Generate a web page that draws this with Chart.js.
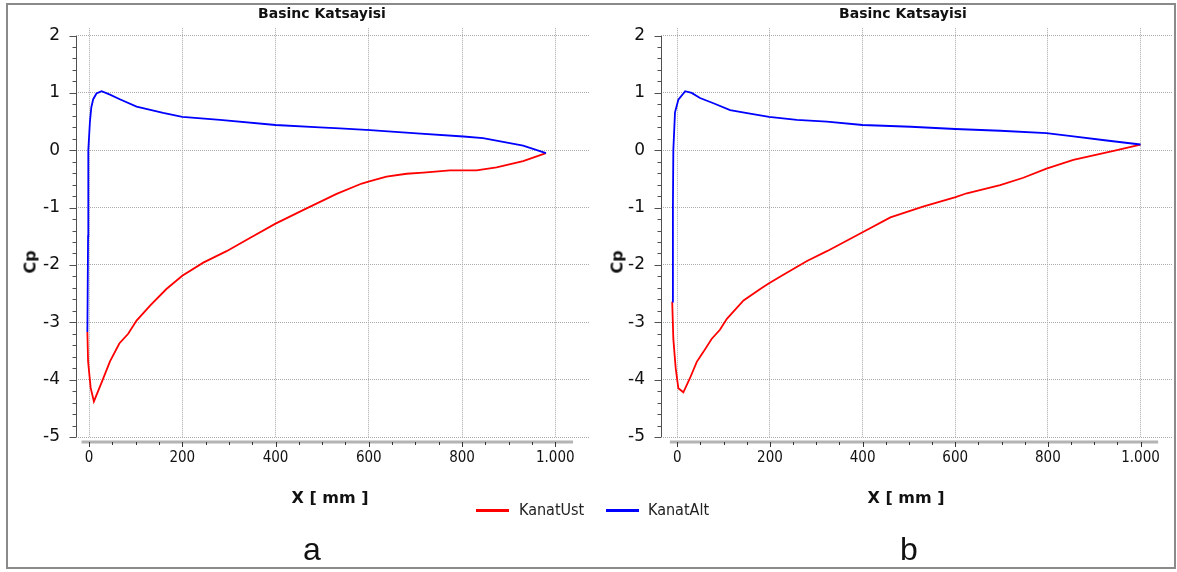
<!DOCTYPE html>
<html>
<head>
<meta charset="utf-8">
<script src="https://cdn.jsdelivr.net/npm/chart.js@4.4.0/dist/chart.umd.min.js"></script>
<style>
html, body { margin: 0; padding: 0; background: #fff; }
#page { position: relative; width: 1177px; height: 572px; overflow: hidden; font-family: "DejaVu Sans", sans-serif; color: #111; }
.frame { position: absolute; left: 6px; top: 3px; width: 1166px; height: 562px; border: 2px solid #8a8a8a; }
canvas { position: absolute; top: 0; }
.ttl { position: absolute; top: 5px; line-height: 16px; font: bold 14px "DejaVu Sans"; transform: translateX(-50%); white-space: nowrap; }
.xt { position: absolute; top: 488px; line-height: 20px; font: bold 16px "DejaVu Sans"; transform: translateX(-50%); white-space: nowrap; }
.yt { position: absolute; line-height: 20px; font: bold 16px "DejaVu Sans"; transform: translate(-50%, -50%) rotate(-90deg); white-space: nowrap; }
.sub { position: absolute; top: 531px; line-height: 36px; font: 32px "Liberation Sans"; transform: translateX(-50%); }
.lg-line { position: absolute; top: 509px; width: 33px; height: 3px; }
.lg-text { position: absolute; top: 500px; line-height: 20px; font: 16px "DejaVu Sans Condensed"; color: #222; }
</style>
</head>
<body>
<div id="page">
  <div class="frame"></div>
  <canvas id="chartA" width="595" height="572" style="left:0;width:595px;height:572px"></canvas>
  <canvas id="chartB" width="582" height="572" style="left:595px;width:582px;height:572px"></canvas>

  <div class="ttl" style="left:322px">Basinc Katsayisi</div>
  <div class="ttl" style="left:903px">Basinc Katsayisi</div>
  <div class="yt" style="left:30px;top:262px">Cp</div>
  <div class="yt" style="left:617px;top:262px">Cp</div>
  <div class="xt" style="left:330px">X [ mm ]</div>
  <div class="xt" style="left:906px">X [ mm ]</div>

  <div class="lg-line" style="left:476px;background:#ff0000"></div>
  <div class="lg-text" style="left:519px">KanatUst</div>
  <div class="lg-line" style="left:606px;background:#0000ff"></div>
  <div class="lg-text" style="left:648px">KanatAlt</div>

  <div class="sub" style="left:312px">a</div>
  <div class="sub" style="left:909px">b</div>
</div>

<script>
// ---- axes ----
const xTicks = [0, 200, 400, 600, 800, 1000];
const xTickLabels = ['0', '200', '400', '600', '800', '1.000'];
const cpTicks = [-5, -4, -3, -2, -1, 0, 1, 2];

// ---- a: upper surface (KanatUst) ----
const aUstX  = [-3.5, -2, 3.5, 10.5, 28, 45, 65, 84, 102, 131, 166, 200, 245, 295, 345, 400, 460, 531, 585, 603, 638, 681, 717, 774, 831, 874, 931, 980];
const aUstCp = [-3.17, -3.68, -4.14, -4.38, -4.03, -3.68, -3.37, -3.2, -2.97, -2.71, -2.42, -2.19, -1.96, -1.76, -1.53, -1.28, -1.04, -0.76, -0.58, -0.54, -0.46, -0.41, -0.39, -0.35, -0.35, -0.30, -0.19, -0.05];

// ---- a: lower surface (KanatAlt) ----
const aAltX  = [-3.5, -2, -1.5, 2, 5, 9, 16, 27, 45, 66, 102, 159, 200, 281, 400, 495, 538, 603, 703, 803, 845, 931, 980];
const aAltCp = [-3.17, -1.5, 0, 0.5, 0.75, 0.89, 0.99, 1.03, 0.97, 0.89, 0.76, 0.65, 0.58, 0.53, 0.44, 0.40, 0.38, 0.35, 0.295, 0.24, 0.21, 0.08, -0.05];

// ---- b: upper surface (KanatUst) ----
const bUstX  = [-11, -8.6, -3.5, 2.2, 13, 27, 42, 56, 74, 92, 107, 143, 179, 198, 229, 280, 323, 400, 460, 532, 599, 625, 697, 747, 797, 855, 942, 1000];
const bUstCp = [-2.64, -3.29, -3.80, -4.15, -4.22, -3.98, -3.69, -3.52, -3.29, -3.13, -2.94, -2.62, -2.42, -2.32, -2.17, -1.93, -1.76, -1.43, -1.17, -0.98, -0.82, -0.75, -0.61, -0.48, -0.32, -0.17, -0.01, 0.10];

// ---- b: lower surface (KanatAlt) ----
const bAltX  = [-11, -9.5, -8.6, -5, 2.2, 17, 31, 49, 78, 114, 157, 198, 258, 323, 400, 504, 600, 697, 797, 855, 927, 1000];
const bAltCp = [-2.64, -1, 0, 0.66, 0.88, 1.03, 1.0, 0.91, 0.82, 0.70, 0.64, 0.58, 0.53, 0.50, 0.44, 0.41, 0.37, 0.34, 0.30, 0.24, 0.17, 0.10];

function pts(xs, ys) {
    return xs.map((x, i) => ({ x, y: ys[i] }));
}

// y axis line with minor ticks, and the detached grey x axis below the plot
const axisDeco = {
    id: 'axisDeco',
    afterDraw(chart) {
        const { ctx, chartArea } = chart;
        const xs = chart.scales.x, ys = chart.scales.y;
        const ax = chartArea.left - 1.5;
        ctx.save();
        ctx.strokeStyle = '#505050';
        ctx.lineWidth = 1;
        ctx.beginPath();
        ctx.moveTo(ax, ys.getPixelForValue(2));
        ctx.lineTo(ax, ys.getPixelForValue(-5));
        for (let i = 0; i <= 35; i++) {
            const v = -5 + i * 0.2;
            const p = Math.round(ys.getPixelForValue(v)) + 0.5;
            ctx.moveTo(ax - (i % 5 === 0 ? 7 : 4), p);
            ctx.lineTo(ax, p);
        }
        ctx.stroke();

        const ay = chartArea.bottom + 5;
        ctx.strokeStyle = '#b4b4b4';
        ctx.lineWidth = 3;
        ctx.beginPath();
        ctx.moveTo(xs.getPixelForValue(-16), ay);
        ctx.lineTo(xs.getPixelForValue(1038), ay);
        ctx.stroke();

        ctx.strokeStyle = '#333';
        ctx.lineWidth = 1;
        ctx.beginPath();
        for (let v = 0; v <= 1000; v += 50) {
            const p = Math.round(xs.getPixelForValue(v)) + 0.5;
            ctx.moveTo(p, ay);
            ctx.lineTo(p, ay + (v % 200 === 0 ? 5 : 3));
        }
        ctx.stroke();
        ctx.restore();
    }
};

function makeChart(id, ust, alt, xMin, xMax, yAxisWidth) {
    const line = (label, data, color) => ({
        label, data,
        borderColor: color,
        backgroundColor: color,
        borderWidth: 1.8,
        showLine: true,
        pointRadius: 0,
        tension: 0
    });

    return new Chart(document.getElementById(id), {
        type: 'scatter',
        data: {
            datasets: [
                line('KanatAlt', alt, '#0000ff'),
                line('KanatUst', ust, '#ff0000')
            ]
        },
        options: {
            responsive: false,
            animation: false,
            devicePixelRatio: 1,
            layout: { padding: { left: 0, right: 5, top: 25, bottom: 95 } },
            plugins: {
                legend: { display: false },
                tooltip: { enabled: false }
            },
            scales: {
                x: {
                    type: 'linear',
                    min: xMin,
                    max: xMax,
                    afterBuildTicks: s => { s.ticks = xTicks.map(v => ({ value: v })); },
                    afterFit: s => { s.height = 40; },
                    ticks: {
                        padding: 12,
                        color: '#111',
                        maxRotation: 0,
                        font: { family: 'DejaVu Sans Condensed', size: 15 },
                        callback: (v, i) => xTickLabels[i]
                    },
                    grid: { color: '#ababab', lineWidth: 1, drawTicks: false },
                    border: { display: false, dash: [1, 1] }
                },
                y: {
                    type: 'linear',
                    min: -5,
                    max: 2.128,
                    afterBuildTicks: s => { s.ticks = cpTicks.map(v => ({ value: v })); },
                    afterFit: s => { s.width = yAxisWidth; },
                    ticks: {
                        padding: 18,
                        color: '#111',
                        font: { family: 'DejaVu Sans', size: 17 },
                        callback: v => String(v)
                    },
                    grid: { color: '#ababab', lineWidth: 1, drawTicks: false },
                    border: { display: false, dash: [1, 1] }
                }
            }
        },
        plugins: [axisDeco]
    });
}

makeChart('chartA', pts(aUstX, aUstCp), pts(aAltX, aAltCp), -23.6, 1074.4, 78);
makeChart('chartB', pts(bUstX, bUstCp), pts(bAltX, bAltCp), -30.9, 1068, 68);
</script>
</body>
</html>
